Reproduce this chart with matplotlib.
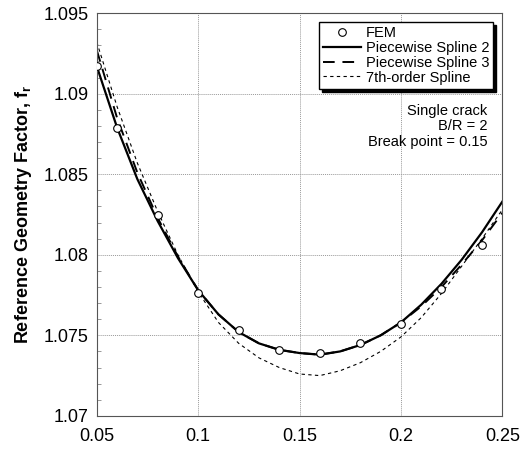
import matplotlib
matplotlib.use("Agg")
import matplotlib.pyplot as plt
from matplotlib.ticker import MultipleLocator

plt.rcParams['font.family'] = ['Liberation Sans', 'DejaVu Sans']
plt.rcParams['mathtext.fontset'] = 'custom'
plt.rcParams['mathtext.rm'] = 'Liberation Sans'
plt.rcParams['mathtext.bf'] = 'Liberation Sans:bold'

# FEM results
x_fem = [0.05, 0.06, 0.08, 0.10, 0.12, 0.14, 0.16, 0.18, 0.20, 0.22, 0.24]
y_fem = [1.0917, 1.0879, 1.0825, 1.0776, 1.0753, 1.0741, 1.0739, 1.0745, 1.0757, 1.0779, 1.0806]

# curves read at 0.01 steps
x_fit = [0.05, 0.06, 0.07, 0.08, 0.09, 0.10, 0.11, 0.12, 0.13, 0.14, 0.15,
         0.16, 0.17, 0.18, 0.19, 0.20, 0.21, 0.22, 0.23, 0.24, 0.25]
y_pw2 = [1.0917, 1.0879, 1.0847, 1.0821, 1.0798, 1.0778, 1.0763, 1.0752, 1.0745, 1.0741, 1.0739,
         1.0738, 1.0740, 1.0744, 1.0750, 1.0758, 1.0769, 1.0782, 1.0797, 1.0814, 1.0833]
y_pw3 = [1.0927, 1.0885, 1.0851, 1.0823, 1.0799, 1.0778, 1.0763, 1.0752, 1.0745, 1.0741, 1.0739,
         1.0738, 1.0740, 1.0744, 1.0750, 1.0758, 1.0768, 1.0780, 1.0794, 1.0809, 1.0826]
y_7th = [1.0932, 1.0892, 1.0857, 1.0827, 1.0800, 1.0777, 1.0758, 1.0745, 1.0736, 1.0730, 1.0726,
         1.0725, 1.0728, 1.0733, 1.0740, 1.0749, 1.0761, 1.0776, 1.0793, 1.0810, 1.0828]

fig = plt.figure(figsize=(5.26, 4.54), dpi=100)
ax = fig.add_axes([0.184, 0.084, 0.771, 0.887])

ax.plot(x_fem, y_fem, 'o', mfc='white', mec='black', ms=5.5, mew=0.8, label='FEM', zorder=5)
ax.plot(x_fit, y_pw2, '-', color='black', lw=1.6, label='Piecewise Spline 2')
ax.plot(x_fit, y_pw3, color='black', lw=1.4, dashes=(6, 4), label='Piecewise Spline 3')
ax.plot(x_fit, y_7th, color='black', lw=0.8, dashes=(3, 3), label='7th-order Spline')

ax.set_xlim(0.05, 0.25)
ax.set_ylim(1.07, 1.095)
ax.yaxis.set_minor_locator(MultipleLocator(0.001))
ax.set_xticks([0.05, 0.1, 0.15, 0.2, 0.25])
ax.set_xticklabels(['0.05', '0.1', '0.15', '0.2', '0.25'])
ax.set_yticks([1.07, 1.075, 1.08, 1.085, 1.09, 1.095])
ax.set_yticklabels(['1.07', '1.075', '1.08', '1.085', '1.09', '1.095'])
ax.tick_params(which='both', direction='in', labelsize=13)
ax.tick_params(axis='x', which='major', length=0, pad=9)
ax.tick_params(axis='y', which='major', length=0, pad=6)
ax.tick_params(which='minor', length=3, width=0.6, color='#888888')
ax.grid(True, which='major', linestyle=(0, (1, 1)), color='#999999', lw=0.7)
for s in ax.spines.values():
    s.set_linewidth(0.8)
    s.set_color('#555555')

ax.set_ylabel(r'Reference Geometry Factor, f$_{\mathbf{r}}$', fontsize=13, fontweight='bold', labelpad=7)

leg = ax.legend(loc='upper right', bbox_to_anchor=(0.978, 0.978), borderaxespad=0,
                fontsize=10.5, frameon=True, fancybox=False, edgecolor='black',
                shadow={'color': 'black', 'alpha': 1}, handlelength=2.6, handletextpad=0.3,
                labelspacing=0.05, borderpad=0.3)
leg.get_frame().set_linewidth(1.0)

ax.text(0.963, 0.775, 'Single crack\nB/R = 2\nBreak point = 0.15', transform=ax.transAxes,
        ha='right', va='top', fontsize=10.5, linespacing=1.15)

fig.savefig('out.png', dpi=100)
